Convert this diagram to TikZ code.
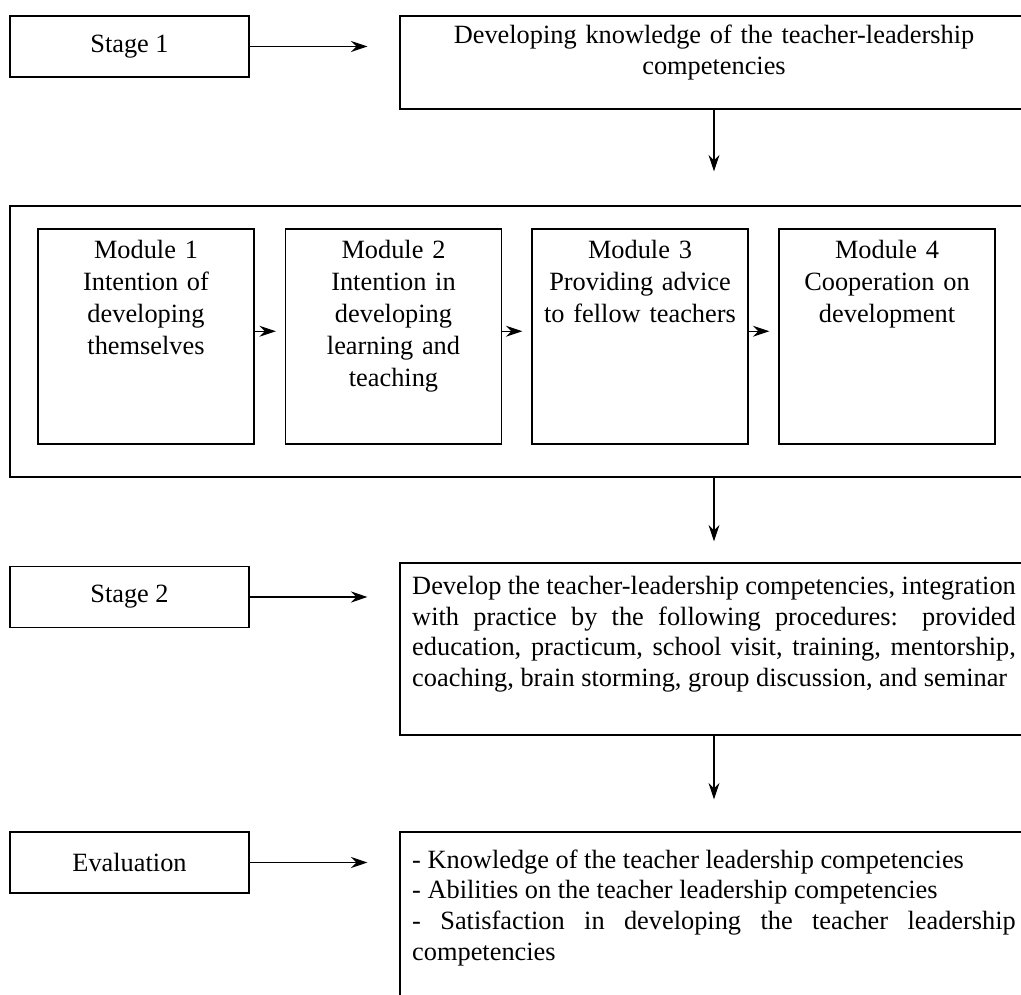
\documentclass[tikz,border=0pt]{standalone}
\usepackage{fontspec}
\setmainfont{Liberation Serif}
\usetikzlibrary{arrows.meta, positioning}

\begin{document}
\begin{tikzpicture}[x=0.016cm, y=-0.016cm, line width=0.65pt,
      every node/.style={font=\fontsize{12}{14}\selectfont},
      box/.style={draw, inner sep=0pt, minimum width=3.82cm, minimum height=0.976cm},
      wide/.style={draw, inner sep=0pt, minimum width=10.05cm},
      mod/.style={draw, inner sep=0pt, minimum width=3.456cm, minimum height=3.44cm},
      modtxt/.style={anchor=north, inner sep=0pt, text width=3.3cm, align=center,
        font=\fontsize{12}{14.6}\selectfont},
      txt/.style={anchor=north, inner sep=0pt, text width=9.66cm},
      arr/.style={-{Stealth[length=7.5pt, width=5pt, inset=2.5pt]}, line width=0.5pt}]
    \useasboundingbox (0,0) rectangle (1021,995);
    \clip (0,0) rectangle (1021,995);

    % stage 1
    \node[box] (stA) at (129.5,46.5) {Stage 1};
    \node[wide, minimum height=1.488cm] (know) at (714,62.5) {};
    \node[txt, align=center, below=4pt of know.north] (know-t)
      {Developing knowledge of the teacher-leadership\\competencies};

    % modules
    \node[draw, minimum width=16.4cm, minimum height=4.336cm] (mods) at (522.5,341.5) {};
    \node[mod] (m1) at (146,336.5) {};
    \node[mod] (m2) at (393.5,336.5) {};
    \node[mod] (m3) at (640,336.5) {};
    \node[mod] (m4) at (887,336.5) {};
    \node[modtxt, below=5pt of m1.north] (m1-t) {Module 1\\Intention of\\developing\\themselves};
    \node[modtxt, below=5pt of m2.north] (m2-t) {Module 2\\Intention in\\developing\\learning and\\teaching};
    \node[modtxt, below=5pt of m3.north] (m3-t) {Module 3\\Providing advice\\to fellow teachers};
    \node[modtxt, below=5pt of m4.north] (m4-t) {Module 4\\Cooperation on\\development};

    % stage 2
    \node[box] (stB) at (129.5,597) {Stage 2};
    \node[wide, minimum height=2.752cm] (prac) at (714,649) {};
    \node[txt, align=justify, below=6pt of prac.north] (prac-t)
      {Develop the teacher-leadership competencies, integration\linebreak
       with practice by the following procedures: provided\linebreak
       education, practicum, school visit, training, mentorship,\linebreak
       coaching, brain storming, group discussion, and seminar};

    % evaluation
    \node[box] (evl) at (129.5,862.5) {Evaluation};
    \node[wide, minimum height=2.85cm] (res) at (714,921) {};
    \node[txt, align=justify, below=8pt of res.north] (res-t)
      {- Knowledge of the teacher leadership competencies\\
       - Abilities on the teacher leadership competencies\\
       - Satisfaction in developing the teacher leadership\linebreak
       competencies};

    % arrows
    \draw[arr, shorten >=0.51cm] (stA) -- (stA -| know.west);
    \draw[arr, shorten >=0.544cm] (know.south) -- (know.south |- mods.north);
    \foreach \a/\b in {m1/m2, m2/m3, m3/m4}
      \draw[arr, shorten >=0.144cm] ([yshift=2.4pt]\a.east) -- ([yshift=2.4pt]\b.west);
    \draw[arr, shorten >=0.336cm] (know.south |- mods.south) -- (know.south |- prac.north);
    \draw[arr, shorten >=0.51cm] (stB) -- (stB -| prac.west);
    \draw[arr, shorten >=0.51cm] (prac.south) -- (prac.south |- res.north);
    \draw[arr, shorten >=0.51cm] (evl) -- (evl -| res.west);
  \end{tikzpicture}
\end{document}
